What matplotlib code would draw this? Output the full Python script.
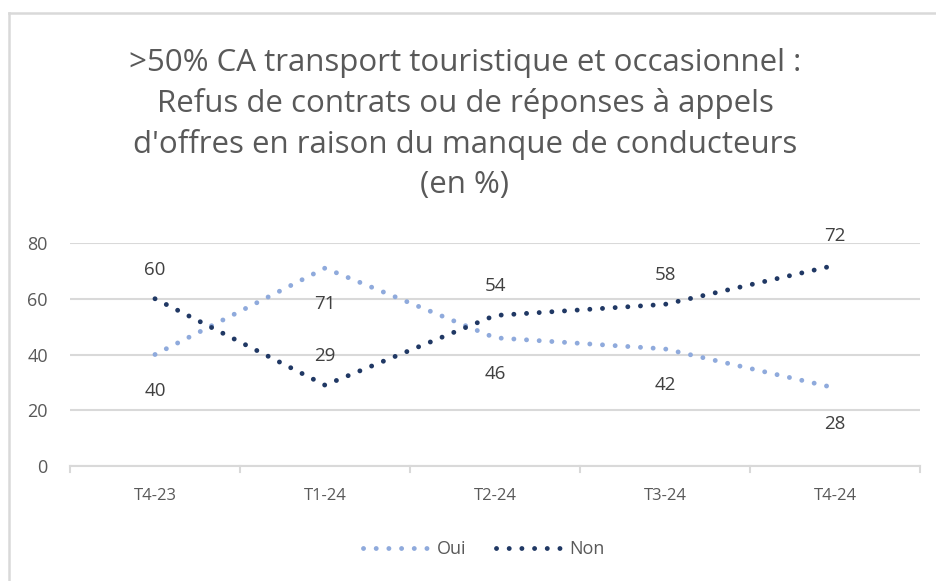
import matplotlib
matplotlib.use("Agg")
import matplotlib.pyplot as plt
from matplotlib.lines import Line2D

categories = ["T4-23", "T1-24", "T2-24", "T3-24", "T4-24"]
oui = [40, 71, 46, 42, 28]
non = [60, 29, 54, 58, 72]
yticks = [0, 20, 40, 60, 80]
title = (">50% CA transport touristique et occasionnel :\n"
         "Refus de contrats ou de réponses à appels\n"
         "d'offres en raison du manque de conducteurs\n"
         "(en %)")

FONT = "Open Sans"
TXT = "#595959"
C_OUI = "#8FAADC"
C_NON = "#203864"
LW = 3.5
DOT = (0, (0.01, 2.6))

W, H = 936, 581
fig = plt.figure(figsize=(W / 100, H / 100), dpi=100)
fig.patch.set_facecolor("white")

# chart frame (only top & left visible)
fig.add_artist(Line2D([9 / W, 9 / W], [0, 1 - 13 / H], transform=fig.transFigure,
                      color="#D9D9D9", lw=1.8))
fig.add_artist(Line2D([9 / W, 1], [1 - 13 / H, 1 - 13 / H], transform=fig.transFigure,
                      color="#D9D9D9", lw=1.8))

left, right = 70 / W, 920 / W
top, bottom = 1 - 243 / H, 1 - 466 / H
ax = fig.add_axes([left, bottom, right - left, top - bottom])
ax.set_xlim(-0.5, len(categories) - 0.5)
ax.set_ylim(0, 80)

x = list(range(len(categories)))
ax.plot(x, oui, color=C_OUI, lw=LW, linestyle=DOT,
        dash_capstyle="round", label="Oui", zorder=3)
ax.plot(x, non, color=C_NON, lw=LW, linestyle=DOT,
        dash_capstyle="round", label="Non", zorder=3)

for xi, v in zip(x, oui):
    ax.annotate(str(v), (xi, v), xytext=(0, -26), textcoords="offset points",
                ha="center", va="center", fontsize=13.5, color="#404040", family=FONT)
for xi, v in zip(x, non):
    ax.annotate(str(v), (xi, v), xytext=(0, 21), textcoords="offset points",
                ha="center", va="center", fontsize=13.5, color="#404040", family=FONT)

ax.set_yticks(yticks)
ax.set_yticklabels([str(t) for t in yticks], family=FONT, fontsize=13, color=TXT)
ax.set_xticks(x)
ax.set_xticklabels(categories, family=FONT, fontsize=12, color=TXT)
ax.tick_params(axis="y", length=0, pad=16)
ax.tick_params(axis="x", length=0, pad=16)
ax.yaxis.grid(True, color="#D9D9D9", lw=1.5)
ax.set_axisbelow(True)
for s in ["top", "right", "left"]:
    ax.spines[s].set_visible(False)
ax.spines["bottom"].set_color("#D9D9D9")
ax.spines["bottom"].set_linewidth(1.5)
# category boundary tick marks
for b in [i - 0.5 for i in range(len(categories) + 1)]:
    ax.plot([b, b], [0, -2.2], color="#D9D9D9", lw=1.5, clip_on=False)

fig.text(0.5 - 3 / W, 1 - 124 / H, title, ha="center", va="center", family=FONT,
         fontsize=22.5, color=TXT, linespacing=1.42)

leg = fig.legend(handles=[
    Line2D([0], [0], color=C_OUI, lw=LW, linestyle=DOT, dash_capstyle="round"),
    Line2D([0], [0], color=C_NON, lw=LW, linestyle=DOT, dash_capstyle="round")],
    labels=["Oui", "Non"], loc="center", bbox_to_anchor=(484 / W, 1 - 549 / H),
    ncol=2, frameon=False, prop={"family": FONT, "size": 13},
    handlelength=3.8, columnspacing=1.6, handletextpad=0.3, labelcolor=TXT)

fig.savefig("out.png", dpi=100)
